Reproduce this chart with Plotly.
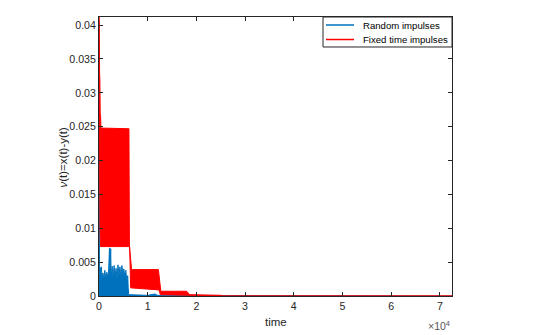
import plotly.graph_objects as go

# values (time in raw units, shown on axis as x10^4)
blue_t = [0, 20, 80, 200, 300, 400, 500, 600, 800, 1000, 1200, 1400, 1600, 1800, 2000,
          2150, 2250, 2400, 2500, 2700, 2900, 3100, 3300, 3500, 3700, 3900, 4100, 4300,
          4500, 4700, 4900, 5100, 5300, 5500, 5700, 5900, 6000, 6100, 10000, 11500,
          12000, 20000, 20500, 72500]
blue_v = [0, 0.0300, 0.0040, 0.0028, 0.0042, 0.0036, 0.0043, 0.0027, 0.0034, 0.0025,
          0.0038, 0.0024, 0.0035, 0.0027, 0.0040, 0.0071, 0.0030, 0.0070, 0.0028, 0.0044,
          0.0026, 0.0045, 0.0029, 0.0041, 0.0025, 0.0046, 0.0030, 0.0043, 0.0027, 0.0045,
          0.0031, 0.0040, 0.0028, 0.0038, 0.0024, 0.0030, 0.0012, 0.0002, 0.0001, 0.0003,
          0.0001, 0.0001, 0, 0]

# fixed time impulses: envelope of the fast oscillation (upper / lower)
red_up_t = [0, 60, 120, 180, 250, 330, 400, 6150, 6250, 6500, 6700, 12200, 12500,
            12700, 18000, 18600, 25000, 25500, 72500]
red_up_v = [0.0412, 0.0400, 0.0330, 0.0318, 0.0270, 0.0265, 0.0248, 0.0247, 0.0073,
            0.0045, 0.0039, 0.0039, 0.0012, 0.0007, 0.0007, 0.0002, 0.0001, 0, 0]
red_lo_t = [0, 30, 100, 200, 300, 6300, 6500, 12300, 12600, 18500, 25000, 25500, 72500]
red_lo_v = [0.0412, 0.0300, 0.0200, 0.0100, 0.0073, 0.0073, 0.0012, 0.0009, 0.0002,
            0.00012, 0.0001, 0, 0]

series_names = ['Random impulses', 'Fixed time impulses']

x_ticks = [0, 10000, 20000, 30000, 40000, 50000, 60000, 70000]
x_labels = ['0', '1', '2', '3', '4', '5', '6', '7']
y_ticks = [0, 0.005, 0.01, 0.015, 0.02, 0.025, 0.03, 0.035, 0.04]
y_labels = ['0', '0.005', '0.01', '0.015', '0.02', '0.025', '0.03', '0.035', '0.04']

BLUE = '#0072BD'
RED = '#FF0000'
AX = '#262626'
FONT = 'Liberation Sans, Arial, sans-serif'

fig = go.Figure()
fig.add_trace(go.Scatter(x=blue_t, y=blue_v, mode='lines', fill='tozeroy', name=series_names[0],
                         fillcolor=BLUE, line=dict(color=BLUE, width=1), showlegend=False))
fig.add_trace(go.Scatter(x=red_lo_t, y=red_lo_v, mode='lines',
                         line=dict(color=RED, width=1), showlegend=False))
fig.add_trace(go.Scatter(x=red_up_t, y=red_up_v, mode='lines', fill='tonexty', name=series_names[1],
                         fillcolor=RED, line=dict(color=RED, width=1), showlegend=False))

axis_common = dict(showline=True, linecolor=AX, linewidth=1, mirror='ticks',
                   ticks='inside', ticklen=4, tickcolor=AX, showgrid=False, zeroline=False,
                   tickfont=dict(family=FONT, size=10.6, color=AX))
fig.update_xaxes(range=[0, 72500], tickvals=x_ticks, ticktext=x_labels, **axis_common)
fig.update_yaxes(range=[0, 0.0412], tickvals=y_ticks, ticktext=y_labels, **axis_common)

# matlab-style legend box, drawn by hand in paper coords
shapes = [dict(type='rect', xref='paper', yref='paper', x0=0.6346, x1=1, y0=0.8925, y1=1,
               line=dict(color=AX, width=1), fillcolor='white', layer='above')]
annos = []
for i, (name, col) in enumerate(zip(series_names, [BLUE, RED])):
    yy = 0.9713 - i * 0.052
    shapes.append(dict(type='line', xref='paper', yref='paper', x0=0.643, x1=0.7224,
                       y0=yy, y1=yy, line=dict(color=col, width=1.5), layer='above'))
    annos.append(dict(text=name, x=0.7414, y=yy, xref='paper', yref='paper', showarrow=False,
                      xanchor='left', yanchor='middle',
                      font=dict(family=FONT, size=9.6, color='black')))

fig.update_layout(
    width=546, height=335, autosize=False, showlegend=False,
    margin=dict(l=99, r=94, t=17, b=39),
    plot_bgcolor='white', paper_bgcolor='white',
    font=dict(family=FONT, color=AX),
    shapes=shapes,
    annotations=annos + [
        dict(text='time', x=0.5, y=-0.093, xref='paper', yref='paper', showarrow=False,
             xanchor='center', yanchor='middle', font=dict(family=FONT, size=11.5, color=AX)),
        dict(text='<i>ν</i>(t)=x(t)-y(t)', x=-0.102, y=0.5, xref='paper', yref='paper',
             showarrow=False, textangle=-90, xanchor='center', yanchor='middle',
             font=dict(family=FONT, size=11.5, color=AX)),
        dict(text='×10<sup>4</sup>', x=1, y=-0.104, xref='paper', yref='paper',
             showarrow=False, xanchor='right', yanchor='middle',
             font=dict(family=FONT, size=10.5, color='#555555')),
    ],
)

fig.write_html('out.html', config={'displayModeBar': False},
               post_script='document.body.style.margin = "0";')
